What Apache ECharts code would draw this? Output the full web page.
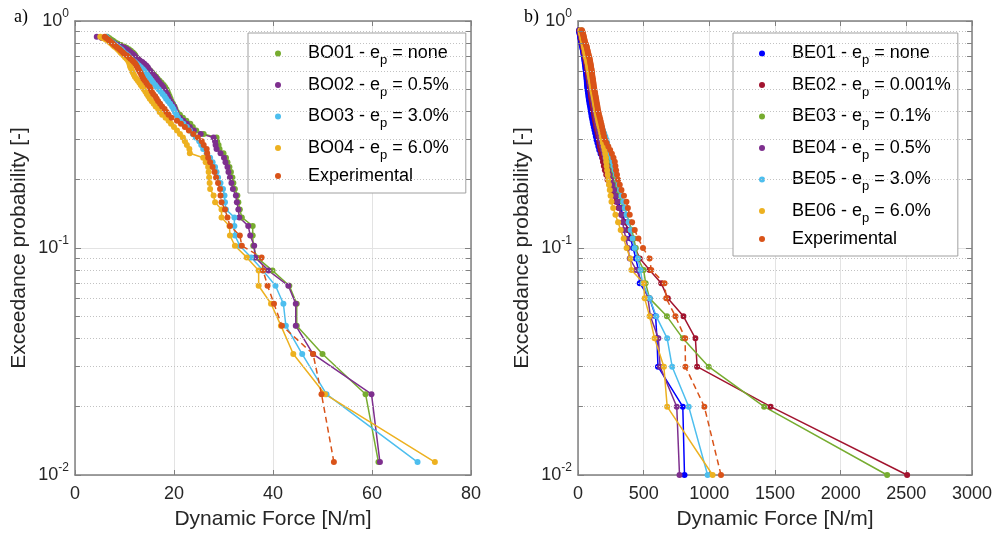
<!DOCTYPE html>
<html><head><meta charset="utf-8">
<script src="https://cdn.jsdelivr.net/npm/echarts@6/dist/echarts.min.js"></script>
<style>html,body{margin:0;padding:0;background:#fff}#c{width:995px;height:535px}</style>
</head><body><div id="c"></div>
<script>
// exceedance probabilities (plotting positions) for each panel
const probL = [0.0114,0.0227,0.0341,0.0455,0.0568,0.0682,0.0795,0.0909,0.1023,0.1136,
0.125,0.1364,0.1477,0.1591,0.1705,0.1818,0.1932,0.2045,0.2159,0.2273,
0.2386,0.25,0.2614,0.2727,0.2841,0.2955,0.3068,0.3182,0.3295,0.3409,
0.3523,0.3636,0.375,0.3864,0.3977,0.4091,0.4205,0.4318,0.4432,0.4545,
0.4659,0.4773,0.4886,0.5,0.5114,0.5227,0.5341,0.5455,0.5568,0.5682,
0.5795,0.5909,0.6023,0.6136,0.625,0.6364,0.6477,0.6591,0.6705,0.6818,
0.6932,0.7045,0.7159,0.7273,0.7386,0.75,0.7614,0.7727,0.7841,0.7955,
0.8068,0.8182,0.8295,0.8409,0.8523];
const probR = [0.01,0.02,0.03,0.04,0.05,0.06,0.07,0.08,0.09,0.10,
0.11,0.12,0.13,0.14,0.15,0.16,0.17,0.18,0.19,0.20,
0.21,0.22,0.23,0.24,0.25,0.26,0.27,0.28,0.29,0.30,
0.31,0.32,0.33,0.34,0.35,0.36,0.37,0.38,0.39,0.40,
0.41,0.42,0.43,0.44,0.45,0.46,0.47,0.48,0.49,0.50,
0.51,0.52,0.53,0.54,0.55,0.56,0.57,0.58,0.59,0.60,
0.61,0.62,0.63,0.64,0.65,0.66,0.67,0.68,0.69,0.70,
0.71,0.72,0.73,0.74,0.75,0.76,0.77,0.78,0.79,0.80,
0.81,0.82,0.83,0.84,0.85,0.86,0.87,0.88,0.89,0.90,0.91];

// panel a) Dynamic force [N/m]
const namesL = ['BO01 - e_p = none','BO02 - e_p = 0.5%','BO03 - e_p = 3.0%','BO04 - e_p = 6.0%','Experimental'];
const BO01 = [61.3,58.7,50.0,44.8,44.8,43.3,39.9,36.7,36.0,35.9,
35.9,33.7,33.3,33.0,32.8,32.3,32.0,31.8,31.5,31.2,
30.8,30.5,30.0,29.2,29.0,28.7,28.6,26.0,24.5,23.8,
23.3,22.5,21.8,21.2,20.6,20.3,20.1,19.8,19.5,19.3,
19.1,18.9,18.7,18.5,18.2,17.9,17.5,17.1,16.7,16.4,
16.0,15.6,15.3,14.9,14.6,14.2,13.8,13.4,13.0,12.7,
12.4,12.2,12.0,11.7,11.3,10.9,10.4,9.9,9.3,8.6,
8.1,7.7,7.3,6.9,6.5];
const BO02 = [61.6,59.9,48.1,44.6,44.6,43.1,39.1,36.4,36.2,35.4,
35.0,33.2,33.0,32.7,32.5,31.9,31.6,31.3,31.0,30.8,
30.4,30.1,29.4,28.6,28.4,28.3,28.0,25.4,24.0,23.2,
22.6,21.9,21.2,20.6,20.4,20.2,20.0,19.6,19.3,19.0,
18.8,18.6,18.3,18.0,17.8,17.5,17.1,16.8,16.5,16.2,
15.8,15.5,15.2,14.9,14.7,14.4,14.0,13.6,13.1,12.7,
12.3,12.0,11.7,11.3,10.9,10.5,10.0,9.4,8.7,8.0,
7.5,7.0,6.4,5.4,4.4];
const BO03 = [69.2,50.8,45.9,42.6,42.1,40.5,38.0,35.6,33.3,32.3,
32.2,32.2,30.5,30.3,30.2,29.9,29.4,28.9,28.6,28.3,
27.8,27.3,26.6,25.9,25.5,25.1,24.4,23.8,23.2,22.6,
21.9,21.3,20.8,20.5,20.2,19.9,19.6,19.2,18.8,18.4,
18.1,17.7,17.3,16.9,16.5,16.2,15.8,15.5,15.2,14.9,
14.6,14.3,14.0,13.7,13.3,12.9,12.5,12.1,11.7,11.3,
11.0,10.7,10.3,9.9,9.6,9.3,8.9,8.6,8.2,7.8,
7.4,7.0,6.7,6.5,6.3];
const BO04 = [72.7,50.5,44.1,41.6,39.6,37.1,37.1,34.7,32.3,31.3,
31.2,29.6,29.6,28.3,28.0,27.3,27.2,27.1,27.0,26.9,
26.4,25.9,23.2,23.1,22.6,22.2,21.8,21.2,20.6,20.0,
19.4,18.9,18.3,17.6,17.1,16.8,16.3,15.9,15.5,15.1,
14.8,14.5,14.2,13.9,13.6,13.3,13.0,12.7,12.4,12.1,
11.9,11.7,11.5,11.4,11.2,11.1,11.0,10.9,10.7,10.4,
10.1,9.8,9.5,9.2,8.9,8.6,8.3,7.9,7.6,7.3,
7.0,6.7,6.2,5.6,5.1];
const EXP_L = [52.3,49.8,48.1,41.8,40.2,38.9,38.0,37.7,33.7,33.3,
31.3,30.8,30.3,29.6,29.4,29.3,28.9,28.5,28.2,27.8,
27.3,26.9,26.7,26.6,26.0,25.6,24.8,23.9,23.0,22.2,
21.4,20.6,19.5,18.9,18.5,18.1,17.6,17.2,16.8,16.5,
16.2,15.8,15.5,15.3,15.1,14.7,14.4,14.1,13.8,13.6,
13.4,13.2,13.0,12.8,12.6,12.4,12.2,11.9,11.6,11.2,
10.9,10.5,10.0,9.7,9.3,9.0,8.6,8.3,7.9,7.6,
7.3,7.0,6.7,6.3,6.0];

// panel b)
const namesR = ['BE01 - e_p = none','BE02 - e_p = 0.001%','BE03 - e_p = 0.1%','BE04 - e_p = 0.5%','BE05 - e_p = 3.0%','BE06 - e_p = 6.0%','Experimental'];
const BE01 = [811,798,609,601,591,545,470,460,440,420,
400,380,360,340,325,305,290,280,265,252,
238,225,212,198,185,172,162,155,148,141,
136,131,126,121,116,112,108,104,101,98,
95,92,89,86,83,81,79,77,75,72,
71,69,68,67,66,65,64,62,61,60,
58,57,55,54,52,51,49,48,46,45,
43,41,40,38,36,34,32,30,28,25,
24,22,21,19,17,16,14,12,11,9,8];
const BE02 = [2506,1467,907,894,803,684,634,545,470,435,
410,385,355,330,310,290,272,255,240,225,
215,205,197,190,185,178,172,167,163,160,
155,150,145,140,136,132,128,125,122,119,
116,113,110,107,104,101,99,97,95,93,
91,89,87,85,83,81,79,77,75,73,
71,69,67,65,63,61,59,57,55,53,
51,49,47,45,43,41,39,37,35,33,
31,29,27,25,23,21,19,17,15,13,11];
const BE03 = [2354,1417,995,798,677,545,515,500,457,440,
425,410,390,370,352,335,317,300,287,275,
265,255,246,238,230,221,213,205,197,190,
185,179,174,168,163,158,153,148,144,140,
137,134,131,128,125,122,119,116,113,110,
108,105,103,100,98,95,93,90,88,85,
83,81,79,77,75,72,70,67,64,62,
60,58,56,54,52,50,48,46,44,42,
40,38,36,34,32,30,28,26,24,22,20];
const BE04 = [773,752,625,612,551,533,492,444,394,380,
365,350,340,330,315,300,287,275,262,250,
240,230,222,213,205,198,191,184,177,170,
165,160,155,150,146,142,139,136,133,130,
127,124,121,118,115,112,109,106,103,100,
98,95,93,91,89,87,85,84,82,80,
78,76,74,72,70,67,65,62,60,57,
55,53,51,49,47,45,43,41,39,37,
35,33,31,29,27,25,23,21,19,17,15];
const BE05 = [987,843,717,679,596,545,492,475,455,430,
415,400,385,370,357,345,332,320,310,300,
290,280,270,262,255,245,236,228,222,217,
208,199,190,182,175,169,163,158,154,150,
147,144,141,138,135,132,129,126,123,120,
117,115,112,110,107,105,102,100,97,95,
92,90,87,85,82,80,77,75,72,70,
68,65,63,61,59,57,54,52,49,46,
44,42,40,38,36,34,32,30,28,27,25];
const BE06 = [1025,679,654,583,545,508,500,407,399,370,
348,325,305,285,268,255,248,242,236,230,
226,222,218,215,212,207,202,196,190,185,
181,177,172,166,160,155,151,147,143,139,
136,133,130,127,124,121,118,115,112,109,
107,104,102,99,97,94,92,89,87,84,
82,80,78,76,74,71,69,66,63,61,
59,57,55,53,51,49,47,45,43,41,
39,37,35,33,31,29,27,25,23,21,19];
const EXP_R = [1089,962,818,816,742,672,659,558,545,495,
460,432,412,394,380,369,350,331,318,305,
297,290,285,280,270,258,245,231,218,205,
199,193,188,183,179,174,169,164,159,154,
151,148,145,142,139,136,133,130,127,124,
122,120,118,116,114,112,110,108,107,105,
103,101,99,97,95,93,91,89,86,83,
80,78,75,73,70,68,66,63,60,55,
52,50,48,46,44,42,40,37,35,33,30];

// axis ticks
const xTicksL = [0,20,40,60,80];
const xTicksR = [0,500,1000,1500,2000,2500,3000];
const yRange = [0.01, 1];
const minorY = [0.02,0.03,0.04,0.05,0.06,0.07,0.08,0.09,0.2,0.3,0.4,0.5,0.6,0.7,0.8,0.9];

const colorsL = ['#77AC30','#7E2F8E','#4DBEEE','#EDB120','#D95319'];
const colorsR = ['#0000FF','#A2142F','#77AC30','#7E2F8E','#4DBEEE','#EDB120','#D95319'];
const valsL = [BO01,BO02,BO03,BO04,EXP_L];
const valsR = [BE01,BE02,BE03,BE04,BE05,BE06,EXP_R];

const FONT = '"Liberation Sans", Arial, Helvetica, sans-serif';
const TXT = '#262626';
const AX = '#808080';

function xAxisPair(g, ticks) {
  const min = ticks[0], max = ticks[ticks.length-1], interval = ticks[1]-ticks[0];
  return [{
    gridIndex: g, type: 'value', min, max, interval, position: 'bottom',
    name: 'Dynamic Force [N/m]', nameLocation: 'middle', nameGap: 34,
    nameTextStyle: {fontSize: 21, color: TXT, fontFamily: FONT},
    axisLine: {onZero: false, lineStyle: {color: AX, width: 1.5}},
    axisTick: {inside: true, length: 5, lineStyle: {color: AX}},
    axisLabel: {fontSize: 18, color: TXT, margin: 10, fontFamily: FONT, formatter: v => String(v)},
    splitLine: {show: true, lineStyle: {color: '#e3e3e3', width: 1}}
  }, {
    gridIndex: g, type: 'value', min, max, interval, position: 'top',
    axisLine: {onZero: false, lineStyle: {color: AX, width: 1.5}},
    axisTick: {inside: true, length: 5, lineStyle: {color: AX}},
    axisLabel: {show: false}, splitLine: {show: false}
  }];
}
function yFmt(v) { const e = Math.round(Math.log10(v)); return '{b|10}{s|' + e + '}'; }
function yAxisPair(g) {
  return [{
    gridIndex: g, type: 'log', logBase: 10, min: yRange[0], max: yRange[1], position: 'left',
    name: 'Exceedance probability [-]', nameLocation: 'middle', nameGap: 45,
    nameTextStyle: {fontSize: 21, color: TXT, fontFamily: FONT},
    axisLine: {onZero: false, lineStyle: {color: AX, width: 1.5}},
    axisTick: {inside: true, length: 6, lineStyle: {color: AX}},
    axisLabel: {formatter: yFmt, margin: 6, rich: {
      b: {fontSize: 18, color: TXT, fontFamily: FONT},
      s: {fontSize: 12, color: TXT, fontFamily: FONT, padding: [0,0,14,0]}}},
    splitLine: {show: true, lineStyle: {color: '#e3e3e3', width: 1}}
  }, {
    gridIndex: g, type: 'log', logBase: 10, min: yRange[0], max: yRange[1], position: 'right',
    axisLine: {onZero: false, lineStyle: {color: AX, width: 1.5}},
    axisTick: {inside: true, length: 6, lineStyle: {color: AX}},
    axisLabel: {show: false}, splitLine: {show: false}
  }];
}
function makeSeries(names, vals, colors, probs, axIdx) {
  return names.map((n, i) => ({
    name: n, type: 'line', xAxisIndex: axIdx, yAxisIndex: axIdx,
    data: vals[i].map((v, j) => [v, probs[j]]),
    symbol: 'circle', symbolSize: 6, showSymbol: true,
    itemStyle: {color: colors[i], borderWidth: 0},
    lineStyle: {color: colors[i], width: 1.5, type: n === 'Experimental' ? [6,4] : 'solid'},
    z: 3
  }));
}
function gridMinor(axIdx) {
  return {
    type: 'line', xAxisIndex: axIdx, yAxisIndex: axIdx, data: [], silent: true, z: 1,
    markLine: {
      silent: true, symbol: 'none', label: {show: false}, animation: false,
      lineStyle: {color: '#c2c2c2', type: [1,2], width: 1},
      data: minorY.map(v => ({yAxis: v}))
    }
  };
}
function minorTicks(axIdx, xmax) {
  const t = xmax * 0.0125;
  const d = [];
  minorY.forEach(v => {
    d.push([{coord: [0, v]}, {coord: [t, v]}]);
    d.push([{coord: [xmax - t, v]}, {coord: [xmax, v]}]);
  });
  return {
    type: 'line', xAxisIndex: axIdx, yAxisIndex: axIdx, data: [], silent: true, z: 1,
    markLine: {silent: true, symbol: 'none', label: {show: false}, animation: false,
      lineStyle: {color: AX, type: 'solid', width: 1}, data: d}
  };
}
function legendFmt(name) { return name.replace('e_p', 'e{sub|p}'); }
function legend(left, data, pad) {
  return {
    orient: 'vertical', left: left, top: 33, padding: pad, itemWidth: 50, itemHeight: 6,
    itemGap: 4.5, icon: 'circle', backgroundColor: '#fff', borderColor: '#a0a0a0', borderWidth: 1,
    selectedMode: false, data: data, formatter: legendFmt,
    textStyle: {fontSize: 18, color: '#000', fontFamily: FONT, lineHeight: 20,
      rich: {sub: {fontSize: 13, lineHeight: 13, color: '#000', fontFamily: FONT, padding: [14,0,0,0]}}}
  };
}

const xa = [...xAxisPair(0, xTicksL), ...xAxisPair(1, xTicksR)];
const ya = [...yAxisPair(0), ...yAxisPair(1)];

const option = {
  animation: false,
  backgroundColor: '#fff',
  textStyle: {fontFamily: FONT},
  title: [
    {text: 'a)', left: 9, top: 3, textStyle: {fontFamily: '"Liberation Serif", "Times New Roman", serif', fontSize: 18, fontWeight: 'normal', color: '#000'}},
    {text: 'b)', left: 519, top: 3, textStyle: {fontFamily: '"Liberation Serif", "Times New Roman", serif', fontSize: 18, fontWeight: 'normal', color: '#000'}}
  ],
  grid: [
    {left: 75, top: 21, width: 396, height: 457, containLabel: false},
    {left: 578, top: 21, width: 396, height: 457, containLabel: false}
  ],
  xAxis: xa,
  yAxis: ya,
  legend: [legend(248, namesL, [7,17,7,27]), legend(733, namesR, [7,7,7,26])],
  series: [
    gridMinor(0), minorTicks(0, 80),
    gridMinor(2), minorTicks(2, 3000),
    ...makeSeries(namesL, valsL, colorsL, probL, 0),
    ...makeSeries(namesR, valsR, colorsR, probR, 2)
  ]
};
const chart = echarts.init(document.getElementById('c'), null, {renderer: 'canvas'});
chart.setOption(option);
</script>
</body></html>
